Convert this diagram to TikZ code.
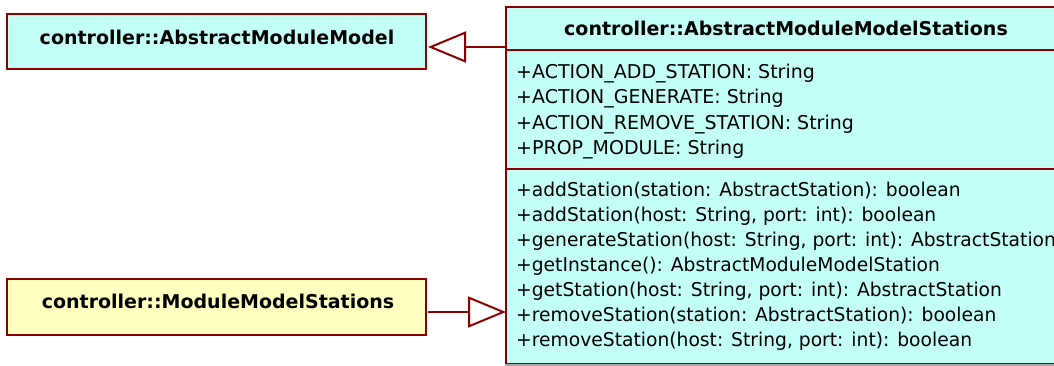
\documentclass[tikz,border=0pt]{standalone}
\usepackage{fontspec}
\setmainfont{DejaVu Sans}
\newfontfamily\methfont[FakeStretch=0.984]{DejaVu Sans}
\usetikzlibrary{arrows.meta}
\definecolor{umlred}{RGB}{140,0,0}
\definecolor{cyanfill}{RGB}{196,255,247}
\definecolor{yelfill}{RGB}{255,255,192}
\definecolor{edgegray}{RGB}{170,170,170}
\begin{document}
\begin{tikzpicture}[x=1pt,y=-1pt,
  clsbox/.style={draw=umlred, line width=2pt, rectangle, inner sep=0pt},
  clstitle/.style={font=\fontsize{19}{23}\selectfont\bfseries, inner sep=0pt, anchor=base},
  member/.style={font=\fontsize{19}{23}\selectfont, inner sep=0pt, anchor=base west},
  method/.style={font=\methfont\fontsize{19}{23}\selectfont, inner sep=0pt, anchor=base west},
  sepline/.style={draw=umlred, line width=2pt},
  gen/.style={draw=umlred, line width=2pt, -{Triangle[open, length=38pt, width=31pt]}}]
\useasboundingbox (0,0) rectangle (1054,365);
\clip (0,0) rectangle (1054,365);
% left classes
\node[clsbox, fill=cyanfill, minimum width=419pt, minimum height=55pt] (amm) at (216.5,41.5) {};
\node[clstitle] (ammtitle) at (217,44.3) {controller::AbstractModuleModel};
\node[clsbox, fill=yelfill, minimum width=419pt, minimum height=56pt] (mms) at (216.5,307) {};
\node[clstitle] (mmstitle) at (218,308.7) {controller::ModuleModelStations};
% big class
\node[clsbox, fill=cyanfill, minimum width=562pt, minimum height=357pt, anchor=north west] (ams) at (505,6) {};
\draw[edgegray, line width=2pt] (ams.south west) -- (ams.south east);
\draw[sepline] (ams.west |- 0,50) -- (ams.east |- 0,50);
\draw[sepline] (ams.west |- 0,169) -- (ams.east |- 0,169);
\node[clstitle] (amstitle) at (786,35.5) {controller::AbstractModuleModelStations};
\node[member] (a1) at (516,78.4) {+ACTION\_ADD\_STATION: String};
\node[member] (a2) at (516,103.7) {+ACTION\_GENERATE: String};
\node[member] (a3) at (516,129) {+ACTION\_REMOVE\_STATION: String};
\node[member] (a4) at (516,154.3) {+PROP\_MODULE: String};
\node[method] (m1) at (516,196.3) {+addStation(station: AbstractStation): boolean};
\node[method] (m2) at (516,221.3) {+addStation(host: String, port: int): boolean};
\node[method] (m3) at (516,246.3) {+generateStation(host: String, port: int): AbstractStation};
\node[method] (m4) at (516,271.3) {+getInstance(): AbstractModuleModelStation};
\node[method] (m5) at (516,296.3) {+getStation(host: String, port: int): AbstractStation};
\node[method] (m6) at (516,321.3) {+removeStation(station: AbstractStation): boolean};
\node[method] (m7) at (516,346.3) {+removeStation(host: String, port: int): boolean};
% generalizations
\draw[gen] (ams.west |- 0,47) -- ([xshift=1pt]amm.east |- 0,47);
\draw[gen] ([xshift=1pt]mms.east |- 0,312) -- ([xshift=1pt]ams.west |- 0,312);
\end{tikzpicture}
\end{document}
